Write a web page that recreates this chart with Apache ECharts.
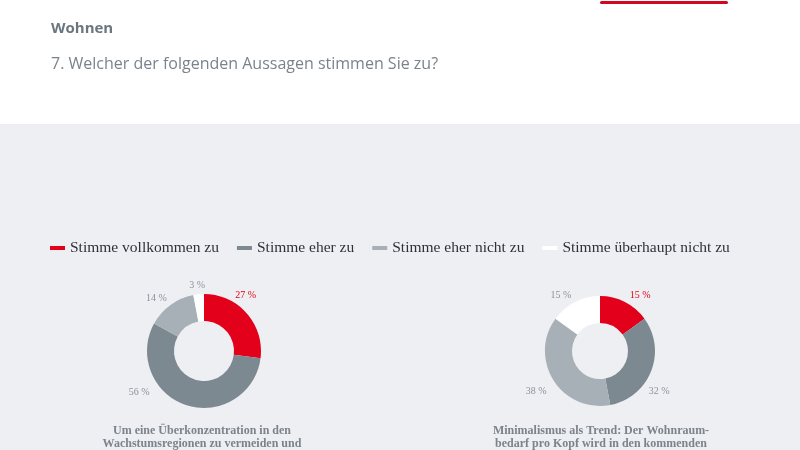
<!DOCTYPE html>
<html><head><meta charset="utf-8">
<script src="https://cdn.jsdelivr.net/npm/echarts@6/dist/echarts.min.js"></script>
<style>html,body{margin:0;padding:0;background:#fff}#c{width:800px;height:450px}</style>
</head><body><div id="c"></div>
<script>
const categories = ['Stimme vollkommen zu', 'Stimme eher zu', 'Stimme eher nicht zu', 'Stimme überhaupt nicht zu'];
const valuesLeft = [27, 56, 14, 3];
const valuesRight = [15, 32, 38, 15];
const colors = ['#e2001a', '#7d8991', '#a8b0b7', '#ffffff'];
const captionLeft = ['Um eine Überkonzentration in den', 'Wachstumsregionen zu vermeiden und'];
const captionRight = ['Minimalismus als Trend: Der Wohnraum-', 'bedarf pro Kopf wird in den kommenden'];
const headTitle = 'Wohnen';
const question = '7. Welcher der folgenden Aussagen stimmen Sie zu?';

const chart = echarts.init(document.getElementById('c'), null, {renderer: 'canvas'});
const serif = 'Liberation Serif, DejaVu Serif, serif';
// label nudges (styling only)
const nudge = [
  [[-21, -14], [-30, -19], [1, -2], [12, -3]],
  [[-3, -1], [-13, 18], [3, 8], [4, -1]]
];
function mk(vals) {
  return categories.map((n, i) => ({name: n, value: vals[i], itemStyle: {color: colors[i]},
    label: {color: i === 0 ? '#e2001a' : '#8c9299'}}));
}
function pie(center, radius, vals) {
  return {
    type: 'pie', center: center, radius: radius, startAngle: 90, clockwise: true,
    data: mk(vals), silent: true,
    label: {show: true, position: 'outside', formatter: '{c} %', fontFamily: serif, fontSize: 10},
    labelLine: {show: false, length: 6, length2: 0},
    labelLayout: function (p) {
      const d = nudge[p.seriesIndex][p.dataIndex];
      return {dx: d[0], dy: d[1]};
    },
    emphasis: {disabled: true}
  };
}
chart.setOption({
  backgroundColor: 'transparent',
  animation: false,
  graphic: [
    {type: 'rect', shape: {x: 0, y: 124, width: 800, height: 326}, style: {fill: '#eeeff3'}, z: -10},
    {type: 'rect', shape: {x: 600, y: 1, width: 128, height: 3, r: 1.5}, style: {fill: '#d2091e'}},
    {type: 'text', left: 51, top: 21, style: {text: headTitle, font: 'bold 15px "Open Sans", sans-serif', fill: '#6b767f'}},
    {type: 'text', left: 51, top: 56, style: {text: question, font: '16px "Open Sans", sans-serif', fill: '#7a838b'}},
    {type: 'text', style: {text: captionLeft.join('\n'), x: 202, y: 425, align: 'center', font: 'bold 12px ' + serif, fill: '#7c838b', lineHeight: 12.5}},
    {type: 'text', style: {text: captionRight.join('\n'), x: 601, y: 425, align: 'center', font: 'bold 12px ' + serif, fill: '#7c838b', lineHeight: 12.5}}
  ],
  legend: {
    data: categories, left: 50, top: 240, padding: 0, icon: 'rect', itemWidth: 15, itemHeight: 4, itemGap: 18,
    selectedMode: false,
    textStyle: {fontFamily: serif, fontSize: 15.5, color: '#2d3239'}
  },
  series: [
    pie([204, 351], [30, 57], valuesLeft),
    pie([600, 351], [28, 55], valuesRight)
  ]
});
</script></body></html>
